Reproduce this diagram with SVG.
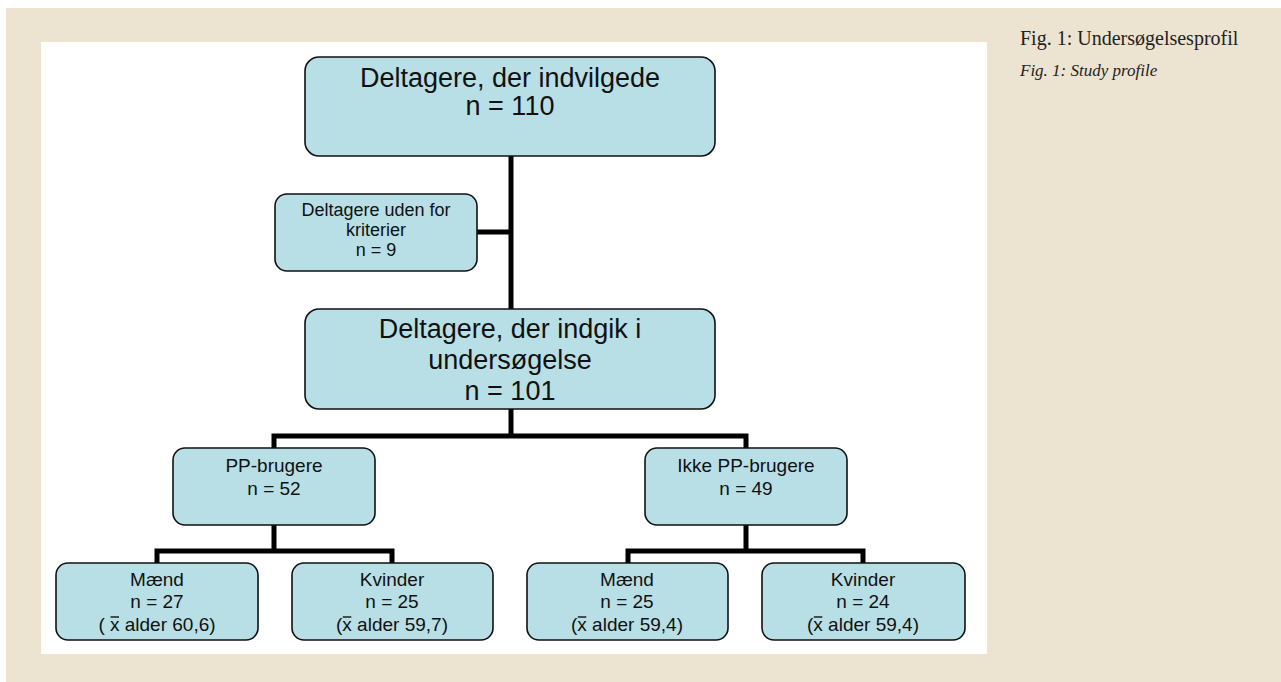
<svg xmlns="http://www.w3.org/2000/svg" width="1281" height="682" viewBox="0 0 1281 682">
<style>
.box{fill:#b8dfe6;stroke:#111;stroke-width:1.6}
.t{font-family:"Liberation Sans",Arial,sans-serif;fill:#111;text-anchor:middle}
.conn{stroke:#000;stroke-width:5;fill:none}
.bar{stroke:#111;stroke-width:1.4}
.cap{font-family:"Liberation Serif","Times New Roman",serif;fill:#222}
</style>
<rect x="0" y="0" width="1281" height="682" fill="#ffffff"/>
<rect x="6" y="8" width="1275" height="674" fill="#ece3d0"/>
<rect x="41" y="42" width="946" height="612" fill="#ffffff"/>
<g id="connectors">
<path class="conn" d="M511 156 V309"/>
<path class="conn" d="M477 232 H511"/>
<path class="conn" d="M511 409 V436"/>
<path class="conn" d="M274 448 V436 H746 V448"/>
<path class="conn" d="M274 525 V551"/>
<path class="conn" d="M157 563 V551 H392 V563"/>
<path class="conn" d="M746 525 V551"/>
<path class="conn" d="M628 563 V551 H863 V563"/>
</g>
<g id="n1">
<rect class="box" x="305" y="57" width="410" height="99" rx="14"/>
<text class="t" font-size="27"><tspan x="510" y="87">Deltagere, der indvilgede</tspan><tspan x="510" y="115">n = 110</tspan></text>
</g>
<g id="n2">
<rect class="box" x="275" y="194" width="202" height="77" rx="12"/>
<text class="t" font-size="18"><tspan x="376" y="216">Deltagere uden for</tspan><tspan x="376" y="236">kriterier</tspan><tspan x="376" y="256">n = 9</tspan></text>
</g>
<g id="n3">
<rect class="box" x="305" y="309" width="410" height="100" rx="14"/>
<text class="t" font-size="27"><tspan x="510" y="338">Deltagere, der indgik i</tspan><tspan x="510" y="369">undersøgelse</tspan><tspan x="510" y="400">n = 101</tspan></text>
</g>
<g id="n4">
<rect class="box" x="173" y="448" width="202" height="77" rx="12"/>
<text class="t" font-size="19"><tspan x="274" y="472">PP-brugere</tspan><tspan x="274" y="495">n = 52</tspan></text>
</g>
<g id="n5">
<rect class="box" x="645" y="448" width="202" height="77" rx="12"/>
<text class="t" font-size="19"><tspan x="746" y="472">Ikke PP-brugere</tspan><tspan x="746" y="495">n = 49</tspan></text>
</g>
<g id="n6">
<rect class="box" x="56" y="563" width="202" height="77" rx="12"/>
<text class="t" font-size="19"><tspan x="157" y="586">Mænd</tspan><tspan x="157" y="608">n = 27</tspan><tspan x="157" y="631">( x alder 60,6)</tspan></text>
<line class="bar" x1="110.5" y1="617" x2="119" y2="617"/>
</g>
<g id="n7">
<rect class="box" x="292" y="563" width="201" height="77" rx="12"/>
<text class="t" font-size="19"><tspan x="392" y="586">Kvinder</tspan><tspan x="392" y="608">n = 25</tspan><tspan x="392" y="631">(x alder 59,7)</tspan></text>
<line class="bar" x1="342.8" y1="617" x2="351.3" y2="617"/>
</g>
<g id="n8">
<rect class="box" x="527" y="563" width="201" height="77" rx="12"/>
<text class="t" font-size="19"><tspan x="627" y="586">Mænd</tspan><tspan x="627" y="608">n = 25</tspan><tspan x="627" y="631">(x alder 59,4)</tspan></text>
<line class="bar" x1="577.8" y1="617" x2="586.3" y2="617"/>
</g>
<g id="n9">
<rect class="box" x="762" y="563" width="203" height="77" rx="12"/>
<text class="t" font-size="19"><tspan x="863" y="586">Kvinder</tspan><tspan x="863" y="608">n = 24</tspan><tspan x="863" y="631">(x alder 59,4)</tspan></text>
<line class="bar" x1="813.8" y1="617" x2="822.3" y2="617"/>
</g>
<g id="caption">
<text class="cap" x="1020" y="45" font-size="20">Fig. 1: Undersøgelsesprofil</text>
<text class="cap" x="1020" y="76" font-size="17" font-style="italic">Fig. 1: Study profile</text>
</g>
</svg>
